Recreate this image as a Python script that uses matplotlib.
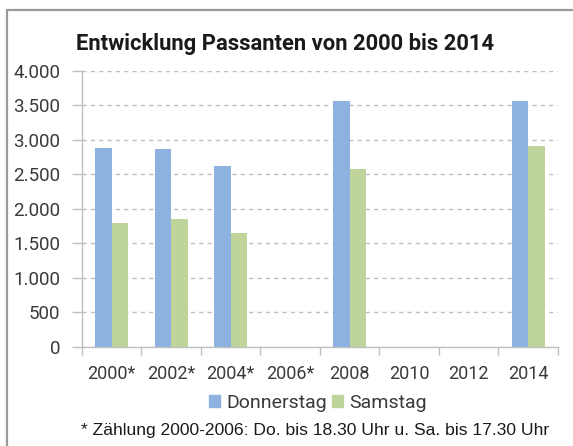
import matplotlib
matplotlib.use("Agg")
import matplotlib.pyplot as plt
from matplotlib.patches import Rectangle, Patch
import numpy as np

# Daten
jahre = ["2000*", "2002*", "2004*", "2006*", "2008", "2010", "2012", "2014"]
donnerstag = [2890, 2870, 2620, np.nan, 3570, np.nan, np.nan, 3570]
samstag = [1790, 1860, 1650, np.nan, 2580, np.nan, np.nan, 2910]
yticks = [0, 500, 1000, 1500, 2000, 2500, 3000, 3500, 4000]
ylabels = ["0", "500", "1.000", "1.500", "2.000", "2.500", "3.000", "3.500", "4.000"]

blau = "#8DB2DF"
gruen = "#BED49B"
grau = "#BFBFBF"
text = "#3A3A3A"

fig = plt.figure(figsize=(5.73, 4.46), dpi=100)
ax = fig.add_axes([0.1431, 0.2226, 0.8307, 0.6182])

x = np.arange(len(jahre))
b = 0.28
ax.bar(x - b / 2, donnerstag, b, color=blau, zorder=3)
ax.bar(x + b / 2, samstag, b, color=gruen, zorder=3)

ax.set_xlim(-0.5, len(jahre) - 0.5)
ax.set_ylim(0, 4000)
ax.set_yticks(yticks)
ax.set_yticklabels(ylabels, fontfamily="Roboto", fontsize=13.5, color=text)
ax.set_xticks(x)
ax.set_xticklabels(jahre, fontfamily="Roboto", fontsize=13, color=text)
ax.set_xticks(np.arange(-0.5, len(jahre)), minor=True)
ax.tick_params(axis="x", which="major", length=0, pad=13)
ax.tick_params(axis="x", which="minor", length=6, color=grau, width=1)
ax.tick_params(axis="y", length=7, color=grau, width=1, pad=8.6)

ax.yaxis.grid(True, color=grau, linewidth=1, dashes=(3, 3), zorder=0)
ax.set_axisbelow(True)
for s in ["top", "right"]:
    ax.spines[s].set_visible(False)
for s in ["left", "bottom"]:
    ax.spines[s].set_color(grau)
    ax.spines[s].set_linewidth(1)

# Titel
fig.text(0.497, 0.901, "Entwicklung Passanten von 2000 bis 2014", ha="center", va="center",
         fontfamily="Roboto", fontweight="bold", fontsize=15.8, color="#1A1A1A")

# Legende
handles = [Patch(color=blau, label="Donnerstag"), Patch(color=gruen, label="Samstag")]
fig.legend(handles=handles, loc="center", bbox_to_anchor=(0.555, 0.0964), ncol=2,
           frameon=False, handlelength=0.55, handleheight=0.55, handletextpad=0.3,
           columnspacing=0.3, prop={"family": "Roboto", "size": 14}, labelcolor=text)

# Fußnote
fig.text(0.55, 0.034, "* Zählung 2000-2006: Do. bis 18.30 Uhr u. Sa. bis 17.30 Uhr",
         ha="center", va="center", fontfamily="Liberation Sans", fontsize=12.6, color="#1A1A1A")

# Rahmen
fig.patches.append(Rectangle((6.5 / 573, -0.1), 1.2, 1.1 - 10 / 446, transform=fig.transFigure,
                             fill=False, edgecolor="#9A9A9A", linewidth=1.6))

fig.savefig("out.png", dpi=100)
